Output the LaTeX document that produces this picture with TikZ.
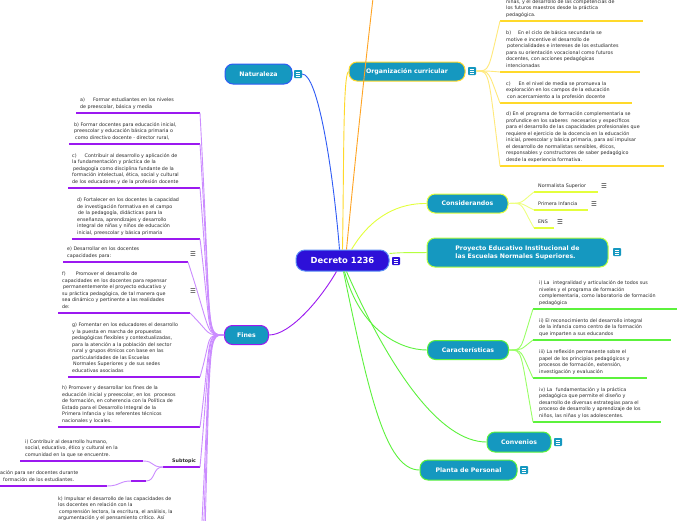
\documentclass[tikz,border=0pt]{standalone}
\usepackage{fontspec}
\setmainfont{DejaVu Sans}
\definecolor{cTeal}{HTML}{1598C0}
\definecolor{cDark}{HTML}{2D10D8}
\definecolor{cDarkB}{HTML}{5A8DF5}
\definecolor{cBlue}{HTML}{2F5BF5}
\definecolor{cYellow}{HTML}{FFD92A}
\definecolor{cYellowL}{HTML}{FFE97A}
\definecolor{cOrange}{HTML}{FFA423}
\definecolor{cLime}{HTML}{E4FF3C}
\definecolor{cLimeL}{HTML}{EEFF80}
\definecolor{cLgreen}{HTML}{B6FF3F}
\definecolor{cGreen}{HTML}{5CF23C}
\definecolor{cGreenL}{HTML}{99FF66}
\definecolor{cPurple}{HTML}{9B19F0}
\definecolor{cLpurple}{HTML}{CB8CFF}
\definecolor{cText}{HTML}{2A2A2A}
\newcommand\leafnode[7]{%
  \node[leaftext] (#1) at (#2,#3-4.5) {#7};
  \coordinate (#1L) at (#4,#3);
  \coordinate (#1R) at (#5,#3);
  \draw[uline,#6] (#1L) -- (#1R);}
\tikzset{
  topic/.style={rounded corners=8pt, fill=cTeal, line width=1pt, text=white,
    font=\fontsize{6.2}{7.6}\selectfont\bfseries, inner sep=0pt},
  central/.style={rounded corners=9pt, fill=cDark, draw=cDarkB, line width=1pt, text=white,
    font=\fontsize{8.4}{9}\selectfont\bfseries, inner sep=0pt, minimum width=93, minimum height=21},
  leaftext/.style={font=\fontsize{4.8}{6.5}\selectfont, text=cText, align=left, inner sep=0pt,
    text depth=0pt, anchor=south west},
  conn/.style={line width=0.9pt},
  uline/.style={line width=1.8pt},
  menuicon/.style={fill=#1, minimum size=8pt, inner sep=0pt, rounded corners=0.8pt,
    path picture={\foreach \q in {-1.8,0,1.8}{\draw[white,line width=0.55pt]
      ([xshift=-2.3pt,yshift=\q pt]path picture bounding box.center) --
      ([xshift=2.3pt,yshift=\q pt]path picture bounding box.center);}}},
  menuicon/.default=cTeal,
  ic/.style={font=\fontsize{6.5}{6.5}\selectfont, text=cText, inner sep=0pt},
}
\begin{document}
\begin{tikzpicture}[x=1pt,y=-1pt]
\useasboundingbox (0,0) rectangle (696,520);
\fill[white] (0,0) rectangle (696,520);

% main nodes
\node[central] (dec) at (342.5,260.5) {Decreto 1236};
\node[menuicon=cDark] (decI) at (396,261) {};
\node[topic, draw=cBlue, minimum width=67, minimum height=20] (nat) at (258.5,74) {Naturaleza};
\node[menuicon] (natI) at (298,74) {};
\node[topic, draw=cYellow, minimum width=116, minimum height=19] (org) at (407,71.5) {Organización curricular};
\node[menuicon] (orgI) at (472,71) {};
\node[topic, draw=cLime, minimum width=81, minimum height=19] (cons) at (467.5,203.5) {Considerandos};
\node[topic, draw=cLgreen, minimum width=181, minimum height=29, align=left] (pei) at (517.5,252.5)
  {Proyecto Educativo Institucional de\\las Escuelas Normales Superiores.};
\node[menuicon] (peiI) at (617,252) {};
\node[topic, draw=cGreen, minimum width=81, minimum height=19] (car) at (468,350) {Características};
\node[topic, draw=cGreen, minimum width=64, minimum height=20] (conv) at (519,442) {Convenios};
\node[menuicon] (convI) at (558,442) {};
\node[topic, draw=cGreen, minimum width=97, minimum height=20] (plan) at (468.5,470) {Planta de Personal};
\node[menuicon] (planI) at (524,470) {};
\node[topic, draw=cPurple, minimum width=44, minimum height=19] (fin) at (246.5,335) {Fines};

% connectors from the centre
\coordinate (orTop) at (374,-10);
\draw[conn,cOrange] ([xshift=4pt]dec.north) .. controls (356,150) and (368,40) .. (orTop);
\draw[conn,cBlue] ([xshift=-3pt]dec.north) .. controls (333,170) and (318,74) .. (natI.east);
\draw[conn,cYellow] (dec.north) .. controls (344,160) and (343,75) .. (org.west);
\draw[conn,cLime] ([xshift=9pt]dec.north) .. controls (372,215) and (400,203) .. (cons.west);
\draw[conn,cLgreen] ([yshift=7pt]dec.east) .. controls (405,252) and (415,253) .. (pei.west);
\draw[conn,cGreen] ([xshift=2pt]dec.south) .. controls (360,330) and (400,350) .. (car.west);
\draw[conn,cGreen] ([xshift=4pt]dec.south) .. controls (390,370) and (440,442) .. (conv.west);
\draw[conn,cGreen] ([xshift=1pt]dec.south) .. controls (368,390) and (385,470) .. (plan.west);
\draw[conn,cPurple] ([xshift=-6pt]dec.south) .. controls (320,300) and (290,335) .. (fin.east);

% Organizacion curricular leaves
\leafnode{oa}{506}{21}{500}{643}{cYellow}{niñas, y el desarrollo de las competencias de\\los futuros maestros desde la práctica\\pedagógica.}
\leafnode{ob}{506}{72}{500}{640}{cYellow}{b)\hspace{7pt}En el ciclo de básica secundaria se\\motive e incentive el desarrollo de\\\hspace{1pt}potencialidades e intereses de los estudiantes\\para su orientación vocacional como futuros\\docentes, con acciones pedagógicas\\intencionadas}
\leafnode{oc}{506}{103}{500}{632}{cYellow}{c)\hspace{8pt}En el nivel de media se promueva la\\exploración en los campos de la educación\\\hspace{1pt}con acercamiento a la profesión docente}
\leafnode{od}{506}{166}{500}{664}{cYellow}{d) En el programa de formación complementaria se\\profundice en los saberes\hspace{2pt} necesarios y específicos\\para el desarrollo de las capacidades profesionales que\\requiere el ejercicio de la docencia en la educación\\inicial, preescolar y básica primaria, para así impulsar\\el desarrollo de normalistas sensibles, éticos,\\responsables y constructores de saber pedagógico\\desde la experiencia formativa.}
\foreach \n in {oa,ob,oc,od}{\draw[conn,cYellowL] (orgI.east) .. controls (490,71) and (488,71) .. (\n L);}

% Considerandos leaves
\leafnode{ns}{538}{192}{534}{598}{cLime}{Normalista Superior}
\leafnode{pi}{538}{210}{534}{588}{cLime}{Primera Infancia}
\leafnode{en}{538}{228}{534}{554}{cLime}{ENS}
\node[ic] (nsI) at (604,186) {☰};
\node[ic] (piI) at (594,204) {☰};
\node[ic] (enI) at (560,222) {☰};
\foreach \n in {ns,pi,en}{\draw[conn,cLimeL] (cons.east) .. controls (524,203) and (520,203) .. (\n L);}

% Caracteristicas leaves
\leafnode{ci}{539}{309}{533}{677}{cGreen}{i) La\hspace{2pt} integralidad y articulación de todos sus\\niveles y el programa de formación\\complementaria, como laboratorio de formación\\pedagógica}
\leafnode{cii}{539}{340}{533}{671}{cGreen}{ii) El reconocimiento del desarrollo integral\\de la infancia como centro de la formación\\que imparten a sus educandos}
\leafnode{ciii}{539}{378}{533}{647}{cGreen}{iii) La reflexión permanente sobre el\\papel de los principios pedagógicos y\\procesos de formación, extensión,\\investigación y evaluación}
\leafnode{civ}{539}{422}{533}{661}{cGreen}{iv) La\hspace{2pt} fundamentación y la práctica\\pedagógica que permite el diseño y\\desarrollo de diversas estrategias para el\\proceso de desarrollo y aprendizaje de los\\niños, las niñas y los adolescentes.}
\foreach \n in {ci,cii,ciii,civ}{\draw[conn,cGreenL] (car.east) .. controls (523,350) and (520,350) .. (\n L);}

% Fines leaves
\leafnode{fa}{80}{113}{76}{200}{cPurple}{a)\hspace{8pt}Formar estudiantes en los niveles\\de preescolar, básica y media}
\leafnode{fb}{74}{144}{69}{200}{cPurple}{b) Formar docentes para educación inicial,\\preescolar y educación básica primaria o\\\hspace{1pt}como directivo docente - director rural,}
\leafnode{fc}{72}{188}{68}{200}{cPurple}{c)\hspace{8pt}Contribuir al desarrollo y aplicación de\\la fundamentación y práctica de la\\\hspace{1pt}pedagogía como disciplina fundante de la\\formación intelectual, ética, social y cultural\\de los educadores y de la profesión docente}
\leafnode{fd}{77}{239}{72}{200}{cPurple}{d) Fortalecer en los docentes la capacidad\\de investigación formativa en el campo\\\hspace{1pt}de la pedagogía, didácticas para la\\enseñanza, aprendizajes y desarrollo\\integral de niñas y niños de educación\\inicial, preescolar y básica primaria}
\leafnode{fe}{67}{262}{63}{188}{cPurple}{e) Desarrollar en los docentes\\capacidades para:}
\leafnode{ff}{62}{313}{58}{190}{cPurple}{f)\hspace{10pt}Promover el desarrollo de\\capacidades en los docentes para repensar\\\hspace{1pt}permanentemente el proyecto educativo y\\su práctica pedagógica, de tal manera que\\sea dinámico y pertinente a las realidades\\de:}
\leafnode{fg}{72}{377}{68}{200}{cPurple}{g) Fomentar en los educadores el desarrollo\\y la puesta en marcha de propuestas\\pedagógicas flexibles y contextualizadas,\\para la atención a la población del sector\\rural y grupos étnicos con base en las\\particularidades de las Escuelas\\\hspace{1pt}Normales Superiores y de sus sedes\\educativas asociadas}
\leafnode{fh}{62}{427}{58}{200}{cPurple}{h) Promover y desarrollar los fines de la\\educación inicial y preescolar, en los\hspace{2pt} procesos\\de formación, en coherencia con la Política de\\Estado para el Desarrollo Integral de la\\Primera Infancia y los referentes técnicos\\nacionales y locales.}
\node[ic] (feI) at (193,254) {☰};
\node[ic] (ffI) at (193,291) {☰};
\leafnode{st}{172}{467}{163}{200}{cPurple}{\bfseries Subtopic}
\node[leaftext, anchor=north west] (fk) at (58,496.5) {k) Impulsar el desarrollo de las capacidades de\\los docentes en relación con la\\\hspace{1pt}comprensión lectora, la escritura, el análisis, la\\argumentación y el pensamiento crítico. Así};
\coordinate (fkR) at (200,560);
\coordinate (flR) at (200,620);
\coordinate (fmR) at (200,700);
\foreach \n in {faR,fbR,fcR,fdR,feR,ffR,fgR,fhR,stR,fkR,flR,fmR}{\draw[conn,cLpurple] (fin.west) .. controls (205,335) and (212,335) .. (\n);}

% Subtopic leaves
\leafnode{si}{25}{461}{20}{143}{cPurple}{i) Contribuir al desarrollo humano,\\social, educativo, ético y cultural en la\\comunidad en la que se encuentre.}
\leafnode{sj}{0}{486}{-5}{107}{cPurple}{ación para ser docentes durante\\\hspace{3pt}formación de los estudiantes.}
\coordinate (sjbL) at (131,481);
\coordinate (sjbR) at (146,481);
\draw[uline,cPurple] (sjbL) -- (sjbR);
\draw[conn,cLpurple] (stL) .. controls (150,467) and (155,461) .. (siR);
\draw[conn,cLpurple] (stL) .. controls (152,467) and (156,481) .. (sjbR);
\draw[conn,cLpurple] (sjbL) .. controls (119,481) and (120,486) .. (sjR);
\end{tikzpicture}
\end{document}
